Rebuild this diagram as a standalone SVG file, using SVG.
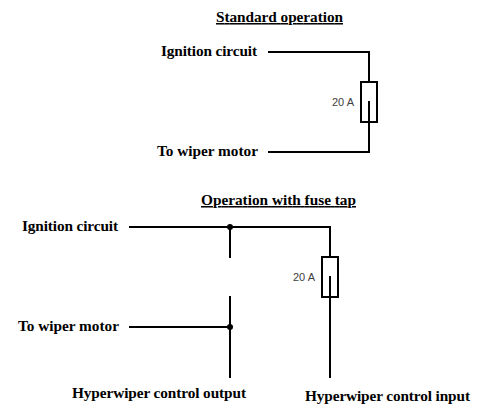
<svg xmlns="http://www.w3.org/2000/svg" width="485" height="415" viewBox="0 0 485 415">
<style>
.l{font-family:"Liberation Serif","Times New Roman",serif;font-weight:bold;font-size:15.3px;fill:#000;text-anchor:start}
.a{font-family:"Liberation Sans",Arial,sans-serif;font-size:11px;fill:#404040}
.w{fill:none;stroke:#000;stroke-width:2}
.u{text-decoration:underline}
</style>
<rect width="485" height="415" fill="#fff"/>
<g id="connectors">
<path class="w" d="M268 52H369V82M369 101V152H268"/>
<path class="w" d="M129 227H330V257M330 276V378"/>
<path class="w" d="M230 227V258M230 296V378M129 327H230"/>
</g>
<g id="fuse1"><rect class="w" x="361" y="82" width="16" height="40"/><text class="a" x="332" y="106">20 A</text></g>
<g id="fuse2"><rect class="w" x="322" y="257" width="16" height="40"/><text class="a" x="293" y="281">20 A</text></g>
<g id="junction1"><circle cx="230" cy="227" r="3"/></g>
<g id="junction2"><circle cx="230" cy="327" r="3"/></g>
<g id="title1"><text class="l u" x="216" y="22" textLength="127">Standard operation</text></g>
<g id="title2"><text class="l u" x="201" y="205" textLength="155">Operation with fuse tap</text></g>
<g id="label-ignition1"><text class="l" x="161" y="56" textLength="96">Ignition circuit</text></g>
<g id="label-wiper1"><text class="l" x="157" y="156" textLength="101">To wiper motor</text></g>
<g id="label-ignition2"><text class="l" x="22" y="231" textLength="96">Ignition circuit</text></g>
<g id="label-wiper2"><text class="l" x="18" y="331" textLength="101">To wiper motor</text></g>
<g id="label-output"><text class="l" x="72" y="398" textLength="174">Hyperwiper control output</text></g>
<g id="label-input"><text class="l" x="305" y="401" textLength="165">Hyperwiper control input</text></g>
</svg>
